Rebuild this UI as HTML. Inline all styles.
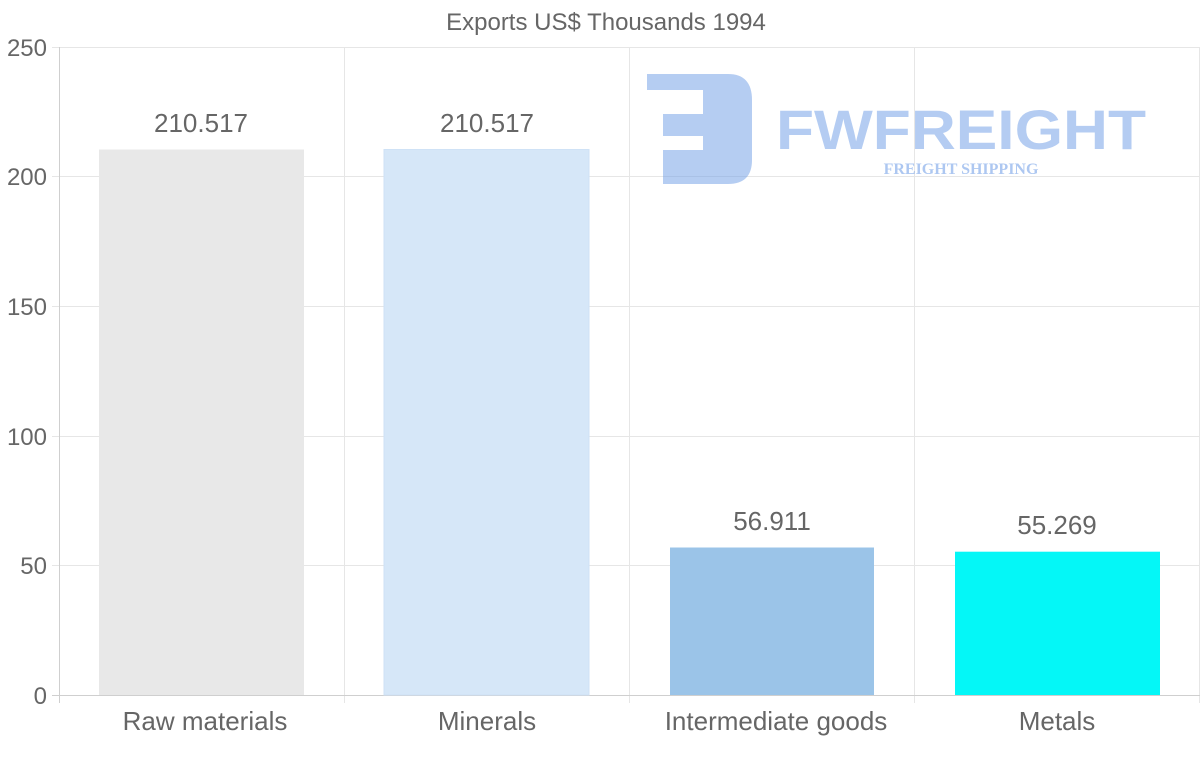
<!DOCTYPE html>
<html><head><meta charset="utf-8"><style>html,body{margin:0;padding:0;background:#fff}svg{display:block}</style></head>
<body>
<svg width="1200" height="763" xmlns="http://www.w3.org/2000/svg" font-family="Liberation Sans, Arial, sans-serif">
<rect width="1200" height="763" fill="#fff"/>
<g stroke="#e6e6e6" stroke-width="1">
<line x1="52" y1="47.5" x2="1200" y2="47.5"/>
<line x1="52" y1="176.5" x2="1200" y2="176.5"/>
<line x1="52" y1="306.5" x2="1200" y2="306.5"/>
<line x1="52" y1="436.5" x2="1200" y2="436.5"/>
<line x1="52" y1="565.5" x2="1200" y2="565.5"/>
<line x1="344.5" y1="47" x2="344.5" y2="703"/>
<line x1="629.5" y1="47" x2="629.5" y2="703"/>
<line x1="914.5" y1="47" x2="914.5" y2="703"/>
<line x1="1199.5" y1="47" x2="1199.5" y2="703"/>
</g>
<g stroke="#cfcfcf"><line x1="59.5" y1="47" x2="59.5" y2="703"/><line x1="52" y1="695.5" x2="1200" y2="695.5"/></g>
<rect x="99" y="149.5" width="205" height="545.5" fill="#e8e8e8"/>
<rect x="384" y="149.5" width="205" height="545.5" fill="#d6e7f8" stroke="#cfe2f6"/>
<rect x="670" y="547.5" width="204" height="147.5" fill="#9bc4e8"/>
<rect x="955" y="551.7" width="205" height="143.3" fill="#04f7f7"/>
<g opacity="0.5" fill="#6b9be6">
<path d="M647 74 H728 Q752 74 752 100 V160 Q752 184 728 184 H663 V150 H703 V136 H663 V114 H703 V90 H647 Z"/>
</g>
<text x="961" y="149" font-size="56" font-weight="bold" fill="#6b9be6" opacity="0.5" text-anchor="middle" textLength="370" lengthAdjust="spacingAndGlyphs">FWFREIGHT</text>
<text x="961" y="174" font-size="16" font-weight="bold" font-family="Liberation Serif, serif" fill="#6b9be6" opacity="0.55" text-anchor="middle">FREIGHT SHIPPING</text>
<text x="606" y="30" font-size="24" fill="#666" text-anchor="middle">Exports US$ Thousands 1994</text>
<g font-size="24" fill="#666" text-anchor="end">
<text x="47" y="56">250</text><text x="47" y="185">200</text><text x="47" y="315">150</text><text x="47" y="445">100</text><text x="47" y="574">50</text><text x="47" y="704">0</text>
</g>
<g font-size="26" fill="#666" text-anchor="middle">
<text x="205" y="730">Raw materials</text><text x="487" y="730">Minerals</text><text x="776" y="730">Intermediate goods</text><text x="1057" y="730">Metals</text>
<text x="201" y="132">210.517</text><text x="487" y="132">210.517</text><text x="772" y="530">56.911</text><text x="1057" y="534">55.269</text>
</g>
</svg>
</body></html>
